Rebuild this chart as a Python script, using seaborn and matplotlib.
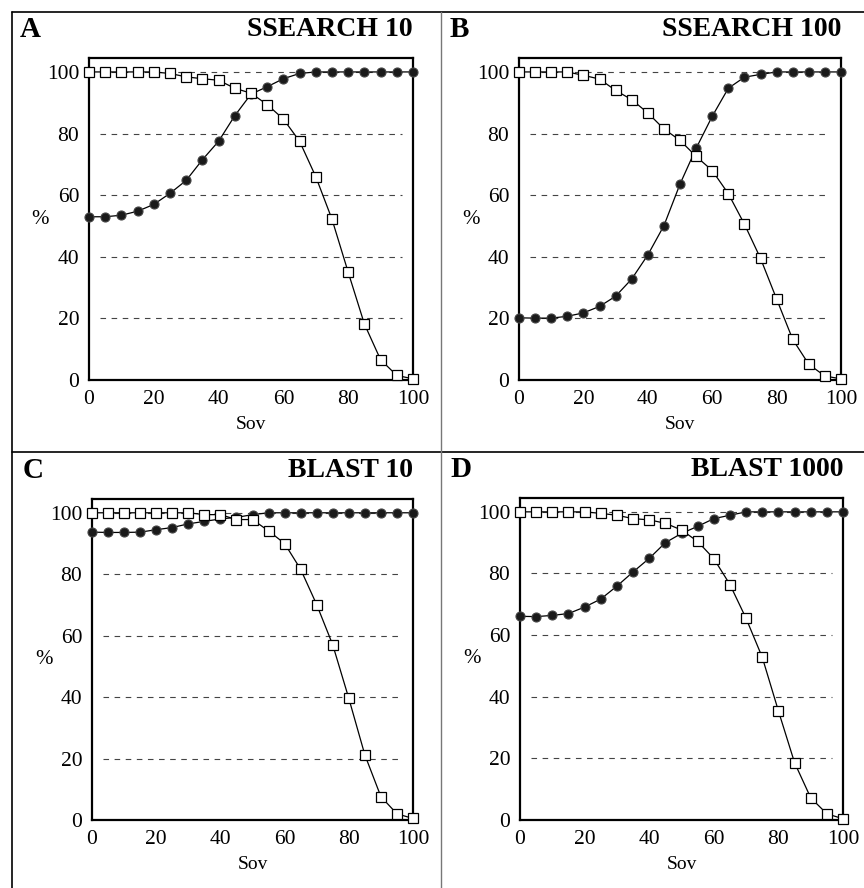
import numpy as np
import pandas as pd
import matplotlib.pyplot as plt
import seaborn as sns
from matplotlib.lines import Line2D

sns.set_style("white")
plt.rcParams['font.family'] = ['Liberation Serif', 'DejaVu Serif']
plt.rcParams['text.color'] = 'black'
plt.rcParams['axes.labelcolor'] = 'black'

sov = list(range(0, 101, 5))

# panel A - SSEARCH 10
a_filled = [53, 53, 53.5, 54.8, 57, 60.6, 64.8, 71.5, 77.5, 85.8, 92.8, 95.2, 97.8, 99.5,
            100, 100, 100, 100, 100, 100, 100]
a_open = [100, 100, 100, 100, 100, 99.5, 98.4, 97.8, 97.3, 94.7, 93.1, 89.4, 84.7, 77.5,
          66, 52.2, 35, 18.2, 6.6, 1.5, 0.4]

# panel B - SSEARCH 100
b_filled = [20.2, 20.1, 20.1, 20.7, 21.8, 23.9, 27.2, 32.8, 40.6, 50.1, 63.6, 75.2, 85.6,
            94.7, 98.3, 99.2, 100, 100, 100, 100, 100]
b_open = [100, 100, 100, 100, 98.9, 97.7, 94, 91, 86.7, 81.5, 77.8, 72.6, 68, 60.5, 50.6,
          39.5, 26.3, 13.2, 5.1, 1.3, 0.4]

# panel C - BLAST 10
c_filled = [93.7, 93.6, 93.6, 93.7, 94.5, 95.2, 96.4, 97.2, 98, 98.5, 99.4, 100, 100, 100,
            100, 100, 100, 100, 100, 100, 100]
c_open = [100, 100, 100, 100, 100, 100, 100, 99.4, 99.4, 97.8, 97.8, 94.1, 90, 81.6, 70.1,
          57, 39.6, 21.2, 7.6, 2, 0.5]

# panel D - BLAST 1000
d_filled = [66.1, 66, 66.4, 67, 69.1, 71.7, 75.9, 80.5, 84.9, 90, 93, 95.3, 97.8, 98.9,
            100, 100, 100, 100, 100, 100, 100]
d_open = [100, 100, 100, 100, 100, 99.5, 98.9, 97.8, 97.4, 96.3, 94.1, 90.4, 84.8, 76.4,
          65.4, 52.8, 35.4, 18.6, 7.2, 2, 0.4]

panels = [
    ("A", "SSEARCH 10", a_filled, a_open, [0.103, 0.572, 0.375, 0.3626]),
    ("B", "SSEARCH 100", b_filled, b_open, [0.6007, 0.572, 0.3727, 0.3626]),
    ("C", "BLAST 10", c_filled, c_open, [0.1065, 0.0766, 0.3715, 0.3615]),
    ("D", "BLAST 1000", d_filled, d_open, [0.6019, 0.0766, 0.3738, 0.3626]),
]

fig = plt.figure(figsize=(8.64, 8.88), dpi=100)

for letter, title, filled, opened, pos in panels:
    ax = fig.add_axes(pos)
    df = pd.DataFrame({"Sov": sov, "filled": filled, "open": opened})

    for yv in [20, 40, 60, 80, 100]:
        ax.axhline(yv, xmin=0.035, xmax=0.965, color="#444444", lw=0.8,
                   dashes=(5, 5), zorder=0)

    sns.lineplot(data=df, x="Sov", y="filled", ax=ax, color="black", lw=0.9,
                 marker="o", markersize=6.5, markerfacecolor="#1a1a1a",
                 markeredgecolor="#444444", markeredgewidth=0.8, clip_on=False,
                 zorder=3)
    sns.lineplot(data=df, x="Sov", y="open", ax=ax, color="black", lw=0.9,
                 marker="s", markersize=6.5, markerfacecolor="white",
                 markeredgecolor="black", markeredgewidth=0.9, clip_on=False,
                 zorder=4)

    ax.set_xlim(0, 100)
    ax.set_ylim(0, 104.5)
    ax.set_xticks(range(0, 101, 20))
    ax.set_yticks(range(0, 101, 20))
    ax.tick_params(direction="inout", length=8, width=1.2, labelsize=15.5,
                   colors="black", pad=3)
    for s in ax.spines.values():
        s.set_visible(True)
        s.set_color("black")
        s.set_linewidth(1.6)

    ax.set_xlabel("Sov", fontsize=14, labelpad=5)
    ax.set_ylabel("%", fontsize=15, rotation=0, va="center")
    ax.yaxis.set_label_coords(-0.15, 0.5)

    ax.text(-0.215, 1.09, letter, transform=ax.transAxes, fontsize=21,
            fontweight="bold", ha="left", va="center")
    ax.text(1.0, 1.09, title, transform=ax.transAxes, fontsize=20,
            fontweight="bold", ha="right", va="center")

# frame lines around the panels
fig.add_artist(Line2D([12 / 864, 1], [1 - 12 / 888, 1 - 12 / 888], color="black", lw=1.2))
fig.add_artist(Line2D([12 / 864, 1], [1 - 452 / 888, 1 - 452 / 888], color="black", lw=1.2))
fig.add_artist(Line2D([12 / 864, 12 / 864], [0, 1 - 12 / 888], color="black", lw=1.2))
fig.add_artist(Line2D([441 / 864, 441 / 864], [0, 1 - 12 / 888], color="#777777", lw=1.0))

plt.savefig("out.png", dpi=100)
